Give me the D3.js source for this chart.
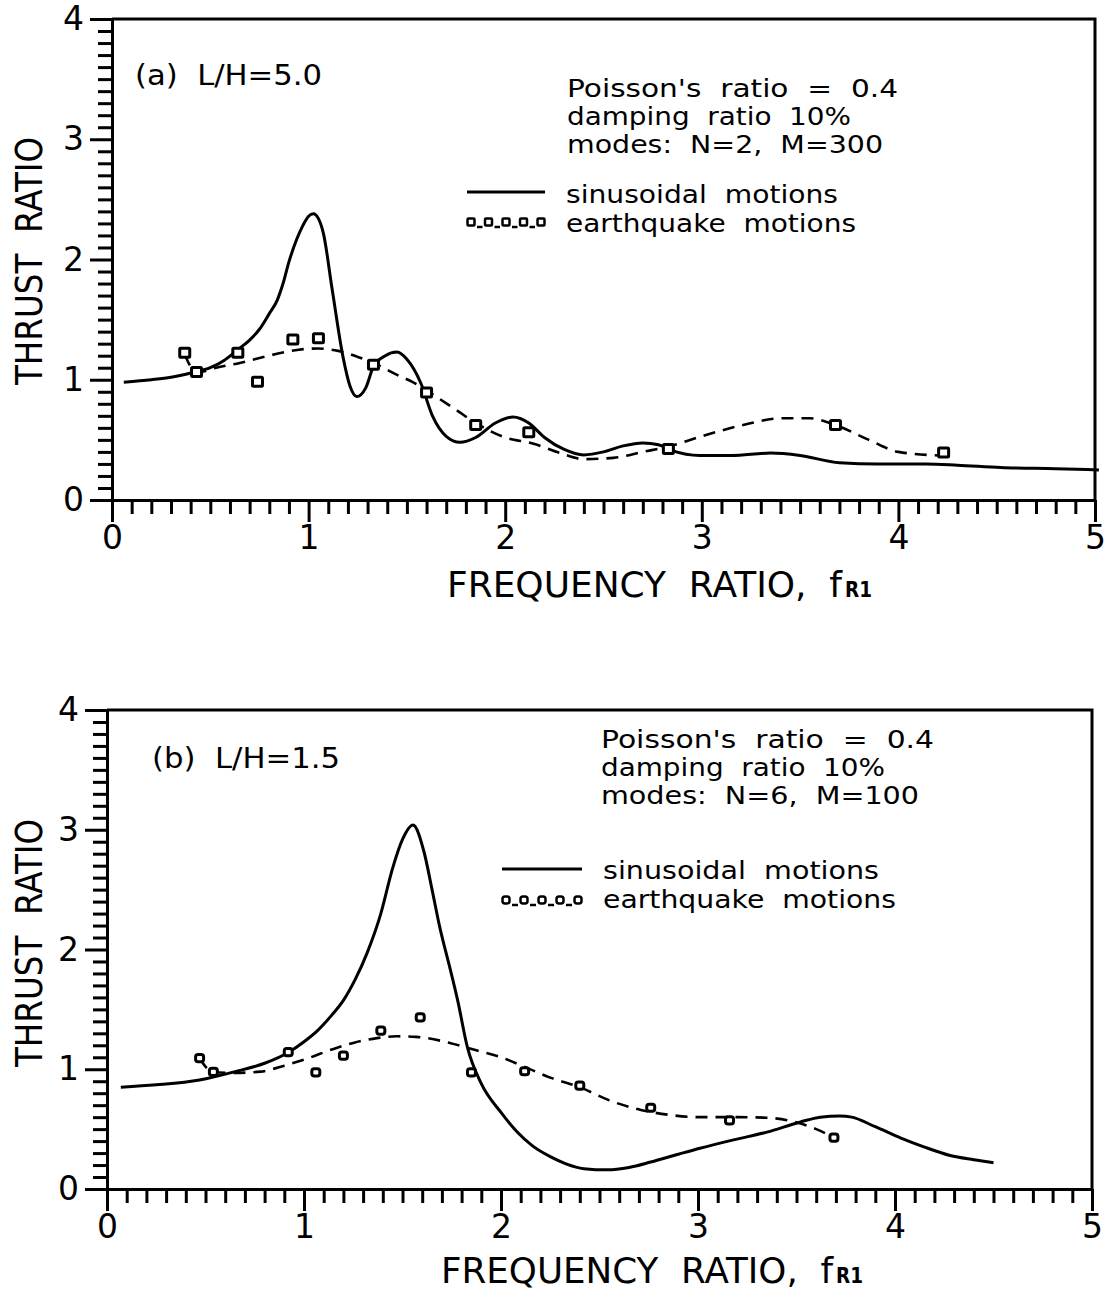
<!DOCTYPE html>
<html><head><meta charset="utf-8">
<script src="https://cdn.jsdelivr.net/npm/d3@7"></script>
<style>
body{margin:0;background:#fff}
text{font-family:"DejaVu Sans",sans-serif;fill:#000;white-space:pre}
</style>
</head><body>
<svg id="c" width="1113" height="1290"></svg>
<script>
// ---------- data ----------
const xTickLabels = ["0","1","2","3","4","5"];
const yTickLabels = ["0","1","2","3","4"];
const xTitle = "FREQUENCY  RATIO,  f";
const xTitleSub = "R1";
const yTitle = "THRUST  RATIO";
const seriesNames = ["sinusoidal  motions", "earthquake  motions"];

const aLabel = "(a)  L/H=5.0";
const aNotes = ["Poisson's  ratio  =  0.4", "damping  ratio  10%", "modes:  N=2,  M=300"];
const bLabel = "(b)  L/H=1.5";
const bNotes = ["Poisson's  ratio  =  0.4", "damping  ratio  10%", "modes:  N=6,  M=100"];

// panel (a) sinusoidal motions
const aSinX = [0.06,0.2,0.3,0.41,0.5,0.57,0.64,0.70,0.75,0.80,0.84,0.87,0.90,0.94,0.97,1.0,1.024,1.05,1.075,1.12,1.175,1.21,1.245,1.29,1.33,1.39,1.45,1.50,1.57,1.63,1.70,1.77,1.85,1.95,2.04,2.12,2.2,2.3,2.40,2.5,2.6,2.70,2.78,2.85,2.99,3.15,3.35,3.5,3.70,3.9,4.14,4.3,4.52,4.8,5.02];
const aSinY = [0.98,1.0,1.02,1.06,1.10,1.16,1.25,1.33,1.42,1.55,1.66,1.80,1.98,2.17,2.28,2.36,2.38,2.34,2.22,1.75,1.19,0.95,0.86,0.93,1.11,1.20,1.23,1.17,0.975,0.70,0.53,0.48,0.52,0.64,0.69,0.64,0.52,0.42,0.375,0.40,0.45,0.475,0.46,0.41,0.37,0.37,0.39,0.37,0.31,0.30,0.30,0.29,0.27,0.26,0.25];
// panel (a) earthquake motions: fitted curve and computed points
const aEqFitX = [0.37,0.43,0.53,0.65,0.75,0.85,0.95,1.05,1.15,1.25,1.33,1.45,1.53,1.60,1.75,1.85,2.0,2.14,2.28,2.40,2.55,2.70,2.82,3.0,3.2,3.41,3.55,3.67,3.85,4.0,4.21];
const aEqFitY = [1.21,1.06,1.10,1.14,1.18,1.22,1.25,1.26,1.24,1.19,1.14,1.04,0.98,0.91,0.75,0.64,0.52,0.47,0.39,0.34,0.35,0.40,0.44,0.53,0.62,0.68,0.68,0.63,0.50,0.40,0.37];
const aEqPtX = [0.37,0.43,0.64,0.74,0.92,1.05,1.33,1.60,1.85,2.12,2.83,3.68,4.23];
const aEqPtY = [1.22,1.06,1.22,0.98,1.33,1.34,1.12,0.89,0.62,0.56,0.42,0.62,0.39];

// panel (b) sinusoidal motions
const bSinX = [0.07,0.25,0.47,0.65,0.80,0.92,1.00,1.07,1.14,1.20,1.26,1.32,1.39,1.45,1.50,1.553,1.61,1.65,1.69,1.74,1.78,1.83,1.90,2.00,2.08,2.16,2.25,2.33,2.42,2.54,2.65,2.76,2.9,3.01,3.18,3.35,3.52,3.62,3.72,3.78,3.9,4.03,4.15,4.28,4.40,4.50];
const bSinY = [0.85,0.87,0.91,0.98,1.05,1.14,1.23,1.325,1.45,1.575,1.75,1.97,2.30,2.68,2.92,3.04,2.81,2.50,2.18,1.85,1.575,1.18,0.88,0.64,0.48,0.36,0.27,0.21,0.17,0.16,0.18,0.225,0.29,0.34,0.41,0.475,0.56,0.60,0.61,0.60,0.52,0.425,0.35,0.28,0.245,0.22];
// panel (b) earthquake motions
const bEqFitX = [0.47,0.54,0.64,0.78,0.90,1.00,1.15,1.25,1.37,1.47,1.57,1.74,1.87,2.0,2.12,2.25,2.40,2.55,2.71,2.85,3.0,3.2,3.35,3.48,3.6,3.69];
const bEqFitY = [1.09,0.975,0.97,0.98,1.03,1.08,1.17,1.22,1.26,1.275,1.27,1.22,1.16,1.10,1.02,0.93,0.85,0.74,0.66,0.62,0.60,0.60,0.595,0.565,0.50,0.43];
const bEqPtX = [0.47,0.54,0.92,1.06,1.20,1.39,1.59,1.85,2.12,2.40,2.76,3.16,3.69];
const bEqPtY = [1.09,0.975,1.14,0.97,1.11,1.32,1.43,0.97,0.98,0.86,0.675,0.57,0.425];

// ---------- drawing ----------
const svg = d3.select("#c");
const zip = (xs, ys) => xs.map((v, i) => [v, ys[i]]);

function panel(o) {
  const x = d3.scaleLinear().domain([0, 5]).range([o.x0, o.x1]);
  const y = d3.scaleLinear().domain([0, 4]).range([o.y0, o.y1]);
  const g = svg.append("g");

  const minorX = d3.range(1, 50).filter(i => i % 10 !== 0).map(i => i / 10);
  const minorY = d3.range(1, 40).filter(i => i % 10 !== 0).map(i => i / 10);

  const styleAxis = s => {
    s.selectAll("line,path").attr("stroke", "#000").attr("stroke-width", 3);
    s.selectAll("text").style("font-size", o.tickFont + "px").attr("fill", "#000");
  };

  g.append("g").attr("transform", `translate(0,${o.y0})`)
    .call(d3.axisBottom(x).tickValues(minorX).tickSize(14).tickFormat(""))
    .call(s => s.select(".domain").remove()).call(styleAxis);
  g.append("g").attr("transform", `translate(0,${o.y0})`)
    .call(d3.axisBottom(x).tickValues(d3.range(0, 6)).tickSize(22).tickSizeOuter(0).tickPadding(o.xPad)
      .tickFormat((d, i) => xTickLabels[i]))
    .call(styleAxis);
  g.append("g").attr("transform", `translate(${o.x0},0)`)
    .call(d3.axisLeft(y).tickValues(minorY).tickSize(14).tickFormat(""))
    .call(s => s.select(".domain").remove()).call(styleAxis);
  g.append("g").attr("transform", `translate(${o.x0},0)`)
    .call(d3.axisLeft(y).tickValues(d3.range(0, 5)).tickSize(22).tickSizeOuter(0).tickPadding(6)
      .tickFormat((d, i) => yTickLabels[i]))
    .call(styleAxis);

  // frame top & right
  g.append("path")
    .attr("d", `M${x(0)},${y(4)}H${x(5)}V${y(0)}`)
    .attr("fill", "none").attr("stroke", "#000").attr("stroke-width", 3);

  // titles
  g.append("text").attr("x", o.xtX).attr("y", o.xtY).style("font-size", "35px")
    .attr("textLength", o.xtW).attr("lengthAdjust", "spacingAndGlyphs").text(xTitle);
  g.append("text").attr("x", o.xtX + o.xtW + 3).attr("y", o.xtY).style("font-size", "21px")
    .style("font-weight", "bold").attr("textLength", 27).attr("lengthAdjust", "spacingAndGlyphs").text(xTitleSub);
  g.append("text").attr("transform", `translate(${o.ytX},${o.ytY}) rotate(-90)`)
    .attr("text-anchor", "middle").style("font-size", "38px")
    .attr("textLength", 248).attr("lengthAdjust", "spacingAndGlyphs").text(yTitle);

  // panel label & notes
  g.append("text").attr("x", o.lbX).attr("y", o.lbY).style("font-size", "29px")
    .attr("textLength", o.lbW).attr("lengthAdjust", "spacingAndGlyphs").text(o.label);
  o.notes.forEach((t, i) => {
    g.append("text").attr("x", o.nX).attr("y", o.nY + i * 28).style("font-size", "24px")
      .attr("textLength", o.nW[i]).attr("lengthAdjust", "spacingAndGlyphs").text(t);
  });

  // legend
  g.append("line").attr("x1", o.lgX1).attr("x2", o.lgX2).attr("y1", o.lgY1).attr("y2", o.lgY1)
    .attr("stroke", "#000").attr("stroke-width", 3);
  const lgSq = d3.range(5).map(i => o.lgX1 + 4 + i * (o.lgX2 - o.lgX1 - 8) / 4);
  for (let i = 0; i < 4; i++) {
    g.append("line").attr("x1", lgSq[i] + 6).attr("x2", lgSq[i + 1] - 6)
      .attr("y1", o.lgY2 + 5).attr("y2", o.lgY2 + 5).attr("stroke", "#000").attr("stroke-width", 2.5);
  }
  lgSq.forEach(cx => g.append("rect").attr("x", cx - 3.5).attr("y", o.lgY2 - 3.5)
    .attr("width", 7).attr("height", 7).attr("rx", o.sqR).attr("fill", "none")
    .attr("stroke", "#000").attr("stroke-width", 2.5));
  seriesNames.forEach((t, i) => {
    g.append("text").attr("x", o.lgTX).attr("y", o.lgTY + i * 29).style("font-size", "25px")
      .attr("textLength", o.lgW[i]).attr("lengthAdjust", "spacingAndGlyphs").text(t);
  });

  // series
  const solid = d3.line().x(d => x(d[0])).y(d => y(d[1])).curve(d3.curveMonotoneX);
  g.append("path").attr("d", solid(zip(o.sinX, o.sinY))).attr("fill", "none")
    .attr("stroke", "#000").attr("stroke-width", 3).attr("stroke-linejoin", "round");
  g.append("path").attr("d", solid(zip(o.fitX, o.fitY))).attr("fill", "none")
    .attr("stroke", "#000").attr("stroke-width", 2.6).attr("stroke-dasharray", "12,8");
  g.selectAll(null).data(zip(o.ptX, o.ptY)).enter().append("rect")
    .attr("x", d => x(d[0]) - o.sq / 2).attr("y", d => y(d[1]) - o.sq / 2)
    .attr("width", o.sq).attr("height", o.sq * 0.9).attr("rx", o.sqR)
    .attr("fill", "#fff").attr("stroke", "#000").attr("stroke-width", 3);
}

panel({
  x0: 112, x1: 1095, y0: 500, y1: 19, tickFont: 33, xPad: 4,
  xtX: 447, xtY: 597, xtW: 395, ytX: 42, ytY: 261,
  label: aLabel, lbX: 135, lbY: 85, lbW: 187,
  notes: aNotes, nX: 567, nY: 97, nW: [331, 284, 316],
  lgX1: 467, lgX2: 545, lgY1: 192, lgY2: 222, lgTX: 566, lgTY: 203, lgW: [272, 290],
  sinX: aSinX, sinY: aSinY, fitX: aEqFitX, fitY: aEqFitY, ptX: aEqPtX, ptY: aEqPtY,
  sq: 10, sqR: 1
});
panel({
  x0: 107, x1: 1092, y0: 1189, y1: 710, tickFont: 33, xPad: 4,
  xtX: 441, xtY: 1283, xtW: 392, ytX: 42, ytY: 943,
  label: bLabel, lbX: 152, lbY: 768, lbW: 188,
  notes: bNotes, nX: 601, nY: 748, nW: [333, 284, 318],
  lgX1: 502, lgX2: 582, lgY1: 869, lgY2: 900, lgTX: 603, lgTY: 879, lgW: [276, 293],
  sinX: bSinX, sinY: bSinY, fitX: bEqFitX, fitY: bEqFitY, ptX: bEqPtX, ptY: bEqPtY,
  sq: 8, sqR: 2.5
});
</script>
</body></html>
